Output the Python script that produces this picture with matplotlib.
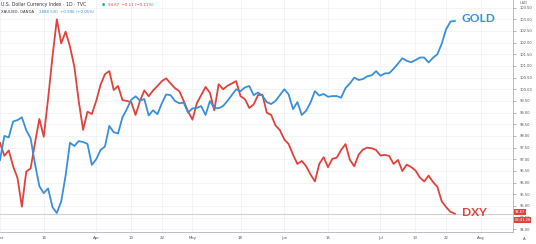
import matplotlib.pyplot as plt

# trading days from Mar 2 2020 (index 0) to Jul 24 2020 (index 104)
dxy = [97.7, 97.15, 97.38, 96.7, 96.2, 94.97, 96.47, 96.61, 97.7, 98.73,
       97.97, 99.6, 101.4, 103.0, 101.97, 102.47, 101.83, 100.97, 99.5, 98.26,
       99.04, 98.94, 99.5, 100.2, 100.65, 100.78, 99.97, 100.14, 99.54, 99.5,
       99.45, 98.9, 99.5, 99.95, 99.7, 99.95, 100.14, 100.35, 100.47, 100.25,
       100.05, 99.92, 99.5, 99.05, 98.7, 99.4, 99.75, 100.1, 99.85, 99.1,
       100.22, 100.0, 100.15, 100.25, 100.35, 99.7, 99.58, 99.2, 99.35, 99.75,
       99.77, 99.0, 98.9, 98.45, 98.25, 97.85, 97.65, 97.2, 96.8, 96.93,
       96.7, 96.35, 96.05, 96.8, 97.09, 96.66, 97.02, 97.07, 97.4, 97.65,
       96.98, 96.7, 97.2, 97.42, 97.5, 97.47, 97.4, 97.16, 97.19, 97.14,
       96.8, 96.97, 96.5, 96.77, 96.67, 96.52, 96.22, 96.05, 96.3, 96.03,
       95.82, 95.2, 94.95, 94.75, 94.67]

gold = [96.97, 98.0, 97.94, 98.62, 98.68, 98.8, 98.25, 97.9, 96.8, 95.85,
        95.55, 95.75, 94.95, 94.7, 95.2, 96.3, 97.71, 97.57, 97.78, 97.74,
        97.66, 96.76, 97.0, 97.4, 97.55, 98.43, 98.16, 98.11, 98.8, 99.15,
        99.55, 99.7, 99.52, 99.58, 98.88, 99.1, 98.93, 99.4, 99.78, 99.75,
        99.5, 99.4, 99.43, 99.0, 99.18, 99.2, 99.28, 98.9, 99.5, 99.2,
        99.19, 99.28, 99.5, 99.75, 100.0, 99.92, 100.08, 100.14, 99.75, 99.86,
        99.72, 99.45, 99.37, 99.5, 99.75, 100.0, 99.78, 99.15, 99.45, 98.9,
        99.08, 99.43, 99.92, 99.73, 99.8, 99.68, 99.71, 99.71, 99.64, 100.05,
        100.25, 100.5, 100.4, 100.44, 100.56, 100.6, 100.78, 100.58, 100.68, 100.69,
        100.88, 101.1, 101.33, 101.22, 101.16, 101.25, 101.36, 101.36, 101.15, 101.35,
        101.5, 101.95, 102.57, 102.9, 102.93]

tick_pos = [0, 10, 22, 30, 37, 44, 55, 65, 75, 87, 95, 102, 110]
tick_lab = ['Mar', '16', 'Apr', '13', '22', 'May', '18', 'Jun', '15', 'Jul', '13', '22', 'Aug']
price_ticks = [94 + 0.5 * k for k in range(20)]

RED = '#e0423c'
BLUE = '#3a8fd8'

fig = plt.figure(figsize=(5.36, 2.44), dpi=100)
ax = fig.add_axes([0, 12 / 244, 513 / 536, 232 / 244])
ax.set_xlim(0.18, 117.3)
ax.set_ylim(93.884, 103.827)

# grid
for p in tick_pos:
    ax.axvline(p, color='#f0f2f6', lw=0.6, zorder=0)
for p in price_ticks:
    ax.axhline(p, color='#f0f2f6', lw=0.6, zorder=0)

ax.axhline(dxy[-1], color='#d0d0d0', lw=0.8, zorder=1)

x = list(range(len(dxy)))
ax.plot(x, dxy, color=RED, lw=1.3, zorder=3)
ax.plot(x, gold, color=BLUE, lw=1.3, zorder=3)

ax.text(104 + 1.6, gold[-1] + 0.1, 'GOLD', color=BLUE, fontsize=8.6, fontweight='bold',
        family=['Lato', 'DejaVu Sans'], va='center', ha='left')
ax.text(104 + 1.6, dxy[-1] + 0.05, 'DXY', color=RED, fontsize=8.6, fontweight='bold',
        family=['Lato', 'DejaVu Sans'], va='center', ha='left')

# axes styling
ax.yaxis.tick_right()
ax.set_yticks(price_ticks)
ax.set_yticklabels([f'{p:.2f}' for p in price_ticks])
ax.set_xticks(tick_pos)
ax.set_xticklabels(tick_lab)
ax.tick_params(axis='y', length=2, width=0.5, color='#9598a1', labelsize=2.6,
               labelcolor='#555555', pad=3)
ax.tick_params(axis='x', length=0, labelsize=2.8, labelcolor='#555555', pad=3)
for s in ['top', 'left']:
    ax.spines[s].set_visible(False)
ax.spines['right'].set_color('#b0b3ba')
ax.spines['bottom'].set_color('#b0b3ba')
ax.spines['right'].set_linewidth(0.6)
ax.spines['bottom'].set_linewidth(0.6)

# last-value boxes on the price scale
ax.text(1.003, 94.74, '94.67', transform=ax.get_yaxis_transform(), color='white',
        fontsize=2.6, va='center', ha='left',
        bbox=dict(boxstyle='square,pad=0.2', fc=RED, ec='none'))
ax.text(1.003, 94.74 - 0.34, '06:41:28', transform=ax.get_yaxis_transform(), color='white',
        fontsize=2.6, va='center', ha='left',
        bbox=dict(boxstyle='square,pad=0.2', fc=RED, ec='none'))

fig.text(520 / 536, 1 - 3 / 244, 'USD', fontsize=2.6, color='#555555', va='center')
fig.text(524 / 536, 1 - 239 / 244, 'A', fontsize=2.8, color='#555555', va='center', ha='center')

# legend lines
fig.text(1 / 536, 1 - 4.5 / 244, 'U.S. Dollar Currency Index · 1D · TVC', fontsize=3.3,
         color='#333333', va='center')
fig.text(102 / 536, 1 - 4.5 / 244, '●', fontsize=2.6, color='#26a69a', va='center')
fig.text(108 / 536, 1 - 4.5 / 244, '94.67  −0.11 (−0.11%)', fontsize=2.8, color=RED, va='center')
fig.text(1 / 536, 1 - 12 / 244, 'XAUUSD, OANDA', fontsize=2.8, color='#333333', va='center')
fig.text(39 / 536, 1 - 12 / 244, '1888.530  +0.996 (+0.05%)', fontsize=2.8, color=BLUE, va='center')

fig.savefig('out.png', dpi=100)
